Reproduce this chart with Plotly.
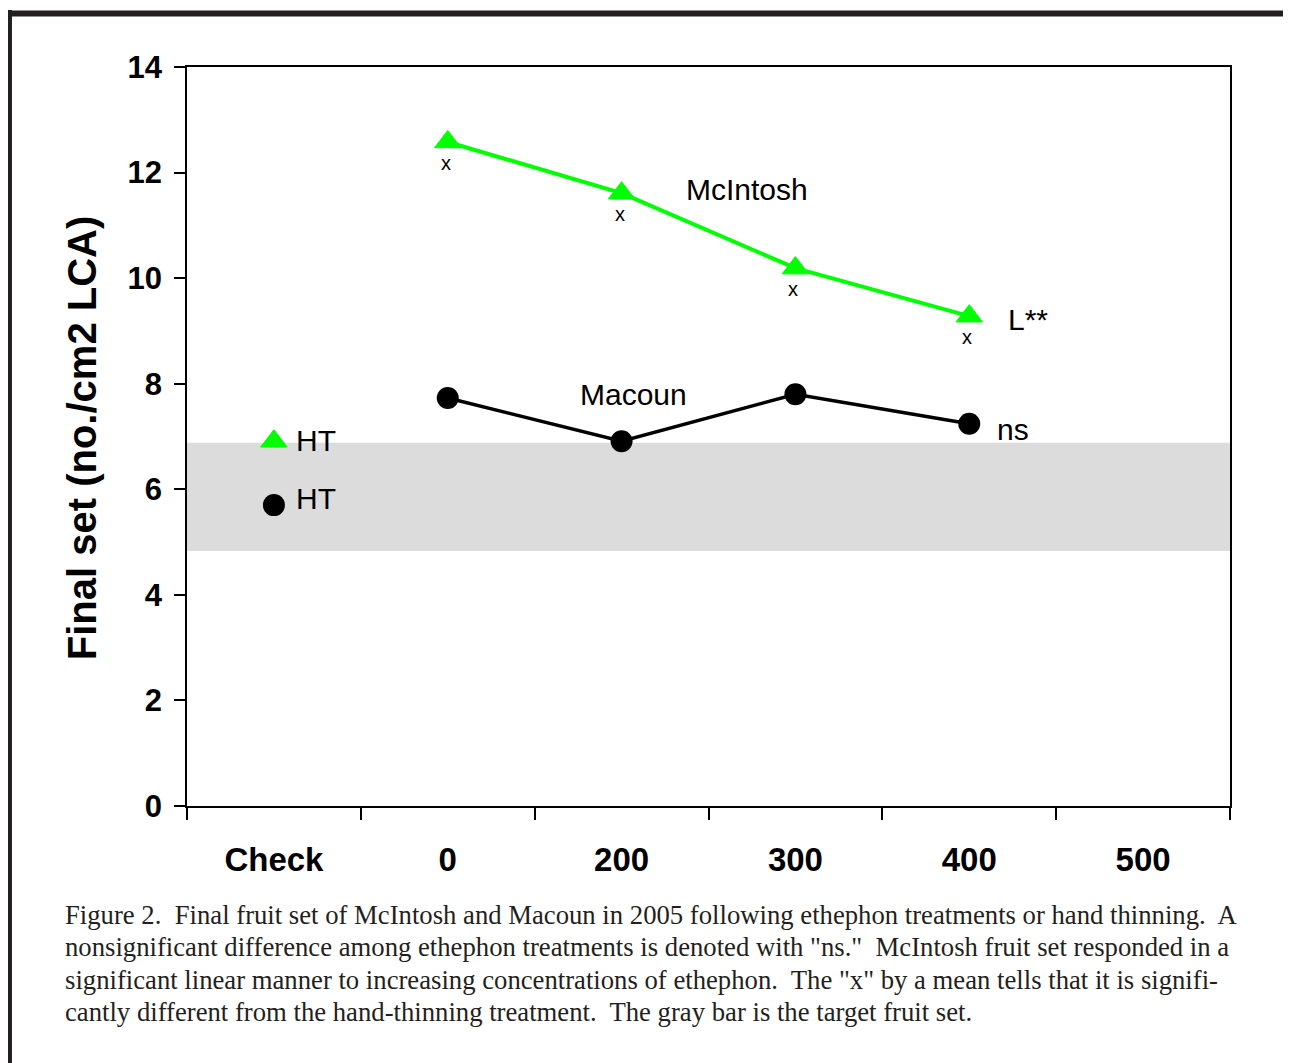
import plotly.graph_objects as go

# ---- data ----
categories = ["Check", "0", "200", "300", "400", "500"]
treat_x = ["0", "200", "300", "400"]
mcintosh = [12.58, 11.61, 10.19, 9.28]
macoun = [7.73, 6.91, 7.80, 7.24]
ht_x = ["Check"]
mcintosh_ht = [6.91]
macoun_ht = [5.70]
target_low, target_high = 4.83, 6.88
y_ticks = [0, 2, 4, 6, 8, 10, 12, 14]

GREEN = "#00ff00"
BLACK = "#000000"
FONT = "Liberation Sans, Arial, sans-serif"
SERIF = "Liberation Serif, Times New Roman, serif"

fig = go.Figure()

tri = dict(symbol="triangle-up", size=23, color=GREEN, line=dict(color=GREEN, width=1))
dot = dict(symbol="circle", size=22, color=BLACK)

fig.add_trace(go.Scatter(x=treat_x, y=mcintosh, mode="lines+markers",
                         line=dict(color=GREEN, width=4), marker=tri,
                         showlegend=False, hoverinfo="skip"))
fig.add_trace(go.Scatter(x=treat_x, y=macoun, mode="lines+markers",
                         line=dict(color=BLACK, width=3.5), marker=dot,
                         showlegend=False, hoverinfo="skip"))
fig.add_trace(go.Scatter(x=ht_x, y=mcintosh_ht, mode="markers", marker=tri,
                         showlegend=False, hoverinfo="skip"))
fig.add_trace(go.Scatter(x=ht_x, y=macoun_ht, mode="markers", marker=dot,
                         showlegend=False, hoverinfo="skip"))

# target band
fig.add_shape(type="rect", xref="paper", yref="y", x0=0, x1=1,
              y0=target_low, y1=target_high,
              fillcolor="#dcdcdc", line=dict(width=0), layer="below")

annotations = []
# "x" marks below McIntosh means
for xv, yv in zip(treat_x, mcintosh):
    annotations.append(dict(x=categories.index(xv), y=yv, xref="x", yref="y",
                            text="x", showarrow=False, yshift=-21, xshift=-2,
                            font=dict(family=FONT, size=20, color=BLACK)))

labels = [
    ("McIntosh", 2.72, 11.67, "center"),
    ("Macoun", 2.07, 7.79, "center"),
    ("L**", 4.34, 9.21, "center"),
    ("ns", 4.25, 7.14, "center"),
    ("HT", 0.115, 6.93, "left"),
    ("HT", 0.115, 5.83, "left"),
]
for t, xv, yv, anc in labels:
    annotations.append(dict(x=xv, y=yv, xref="x", yref="y", text=t, showarrow=False,
                            xanchor=anc, font=dict(family=FONT, size=30, color=BLACK)))

# y-axis title
annotations.append(dict(x=-0.1007, y=0.499, xref="paper", yref="paper",
                        text="Final set (no./cm2 LCA)", textangle=-90,
                        showarrow=False, xanchor="center", yanchor="middle",
                        font=dict(family=FONT, size=40, color=BLACK, weight="bold")))

caption = [
    "Figure 2.  Final fruit set of McIntosh and Macoun in 2005 following ethephon treatments or hand thinning.  A",
    "nonsignificant difference among ethephon treatments is denoted with \"ns.\"  McIntosh fruit set responded in a",
    "significant linear manner to increasing concentrations of ethephon.  The \"x\" by a mean tells that it is signifi-",
    "cantly different from the hand-thinning treatment.  The gray bar is the target fruit set.",
]
cap_y = [-0.1475, -0.1908, -0.2355, -0.2788]
for line, yy in zip(caption, cap_y):
    annotations.append(dict(x=-0.1189, y=yy, xref="paper", yref="paper", text=line,
                            showarrow=False, xanchor="left", yanchor="middle",
                            font=dict(family=SERIF, size=26.7, color="#231f20")))

# page frame (left and top thick borders)
fig.add_shape(type="line", xref="paper", yref="paper", x0=-0.1702, x1=-0.1702,
              y0=1.0771, y1=-0.40, line=dict(color="#231f20", width=5))
fig.add_shape(type="line", xref="paper", yref="paper", x0=-0.1726, x1=1.07,
              y0=1.0724, y1=1.0724, line=dict(color="#231f20", width=6))

fig.update_layout(
    width=1283, height=1055,
    margin=dict(l=179, r=61, t=59, b=257, autoexpand=False),
    paper_bgcolor="white", plot_bgcolor="white",
    annotations=annotations,
    xaxis=dict(type="category", categoryorder="array", categoryarray=categories,
               range=[-0.5, 5.5], tickson="boundaries", ticks="outside", ticklen=12,
               tickwidth=1.5, tickcolor=BLACK, showline=True, linecolor=BLACK, linewidth=1.5,
               mirror=True, showgrid=False, zeroline=False,
               tickfont=dict(family=FONT, size=33, color=BLACK, weight="bold"),
               ticklabelstandoff=24),
    yaxis=dict(range=[0, 14], tickvals=y_ticks, ticks="outside", ticklen=11,
               tickwidth=1.5, tickcolor=BLACK, showline=True, linecolor=BLACK, linewidth=1.5,
               mirror=True, showgrid=False, zeroline=False,
               tickfont=dict(family=FONT, size=31, color=BLACK, weight="bold"),
               ticklabelstandoff=6),
)

fig.write_html("out.html")
